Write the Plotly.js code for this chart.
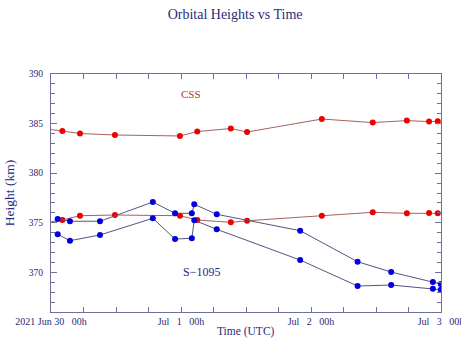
<!DOCTYPE html>
<html>
<head>
<meta charset="utf-8">
<script src="https://cdn.plot.ly/plotly-3.0.1.min.js"></script>
<style>html,body{margin:0;padding:0;background:#fff;}#chart{width:461px;height:351px;}</style>
</head>
<body>
<div id="chart"></div>
<script>
// CSS (red): times and two height series
var cssTimes = ['2021-06-29 20:00','2021-06-30 02:06','2021-06-30 05:21','2021-06-30 11:48','2021-06-30 23:48',
  '2021-07-01 03:00','2021-07-01 09:12','2021-07-01 12:12','2021-07-02 02:00','2021-07-02 11:24',
  '2021-07-02 17:42','2021-07-02 21:48','2021-07-02 23:24'];
var cssUpper = [384.70,384.25,384.00,383.85,383.75,384.20,384.50,384.15,385.46,385.10,385.30,385.20,385.23];
var cssLower = [374.75,375.28,375.71,375.78,375.71,375.28,375.04,375.20,375.71,376.05,375.95,375.98,375.95];

// S-1095 (blue): times and two height series
var s1095Times = ['2021-06-30 01:14','2021-06-30 03:30','2021-06-30 09:03','2021-06-30 18:48','2021-06-30 22:54',
  '2021-07-01 02:00','2021-07-01 02:27','2021-07-01 06:36','2021-07-01 22:00','2021-07-02 08:36',
  '2021-07-02 14:48','2021-07-02 22:30','2021-07-02 23:57'];
var s1095Upper = [375.38,375.15,375.15,377.09,375.95,375.95,376.86,375.85,374.20,371.07,370.03,369.03,368.82];
var s1095Lower = [373.84,373.19,373.77,375.45,373.36,373.43,375.25,374.34,371.24,368.62,368.72,368.35,368.25];

// axis ticks
var xTickVals = ['2021-06-30 00:00','2021-06-30 06:00','2021-06-30 12:00','2021-06-30 18:00',
  '2021-07-01 00:00','2021-07-01 06:00','2021-07-01 12:00','2021-07-01 18:00',
  '2021-07-02 00:00','2021-07-02 06:00','2021-07-02 12:00','2021-07-02 18:00','2021-07-03 00:00'];
var xTickText = ['2021 Jun 30\u00a0\u00a0\u00a000h','','','',
  'Jul\u00a0\u00a0\u00a01\u00a0\u00a0\u00a000h','','','',
  'Jul\u00a0\u00a0\u00a02\u00a0\u00a0\u00a000h','','','',
  'Jul\u00a0\u00a0\u00a03\u00a0\u00a0\u00a000h'];
var yTickVals = [370,375,380,385,390];

var redLine = '#a86060', redMark = '#ee0000';
var blueLine = '#55557f', blueMark = '#0000dd';
var axisCol = '#6f6f9c', textCol = '#2b2b7a';
var fontFam = '"Liberation Serif", "DejaVu Serif", serif';

function tr(x, y, lc, mc) {
  return {x: x, y: y, type: 'scatter', mode: 'lines+markers', cliponaxis: true,
    line: {color: lc, width: 1}, marker: {color: mc, size: 6, line: {width: 0}},
    showlegend: false, hoverinfo: 'x+y'};
}

var data = [
  tr(cssTimes, cssUpper, redLine, redMark),
  tr(cssTimes, cssLower, redLine, redMark),
  tr(s1095Times, s1095Upper, blueLine, blueMark),
  tr(s1095Times, s1095Lower, blueLine, blueMark)
];

var layout = {
  width: 461, height: 351,
  margin: {l: 51, r: 20, t: 74, b: 39, pad: 0},
  paper_bgcolor: '#ffffff', plot_bgcolor: '#ffffff',
  font: {family: fontFam, color: textCol, size: 10},
  title: {text: 'Orbital Heights vs Time', x: 0.51, xanchor: 'center', y: 0.96, yanchor: 'middle',
    font: {family: fontFam, size: 14, color: textCol}},
  xaxis: {
    type: 'date', range: ['2021-06-30 00:00', '2021-07-03 00:00'],
    tickmode: 'array', tickvals: xTickVals, ticktext: xTickText,
    ticks: 'inside', ticklen: 5, tickcolor: axisCol, tickwidth: 1,
    ticklabeloverflow: 'allow',
    showline: true, linecolor: axisCol, linewidth: 1, mirror: 'ticks',
    showgrid: false, zeroline: false,
    tickfont: {family: fontFam, size: 10, color: textCol}
  },
  yaxis: {
    range: [366, 390],
    tickmode: 'array', tickvals: yTickVals,
    ticks: 'inside', ticklen: 6, tickcolor: axisCol, tickwidth: 1,
    ticklabelstandoff: 5,
    minor: {dtick: 1, tick0: 366, ticks: 'inside', ticklen: 4, tickcolor: axisCol, showgrid: false},
    showline: true, linecolor: axisCol, linewidth: 1, mirror: 'ticks',
    showgrid: false, zeroline: false,
    tickfont: {family: fontFam, size: 9.5, color: textCol},
    title: {text: 'Height (km)', font: {family: fontFam, size: 13.5, color: textCol}}
  },
  annotations: [
    {x: 0.5, y: -0.084, xref: 'paper', yref: 'paper', xanchor: 'center', yanchor: 'middle',
      text: 'Time (UTC)', showarrow: false, font: {family: fontFam, size: 11.5, color: textCol}},
    {x: '2021-07-01 01:48', y: 387.98, xref: 'x', yref: 'y', text: 'CSS', showarrow: false,
      font: {family: fontFam, size: 11, color: '#b03535'}},
    {x: '2021-07-01 03:42', y: 370.0, xref: 'x', yref: 'y', text: 'S\u22121095', showarrow: false,
      font: {family: fontFam, size: 12, color: textCol}}
  ]
};

Plotly.newPlot('chart', data, layout, {displayModeBar: false, staticPlot: true});
</script>
</body>
</html>
